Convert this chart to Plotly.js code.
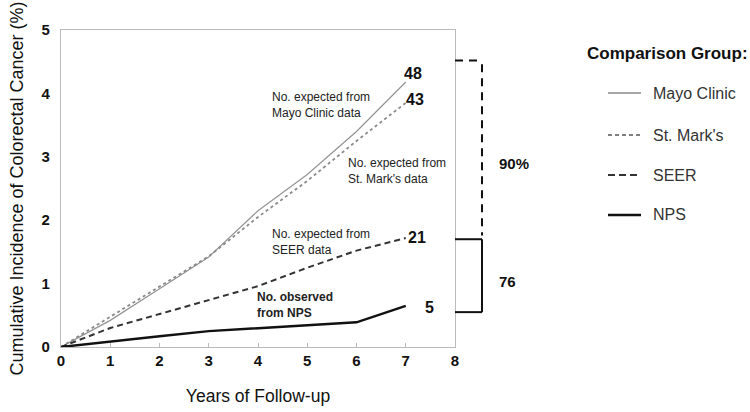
<!DOCTYPE html>
<html>
<head>
<meta charset="utf-8">
<script src="https://cdn.plot.ly/plotly-3.0.1.min.js"></script>
<style>html,body{margin:0;padding:0;background:#fff;}</style>
</head>
<body>
<div id="chart" style="width:750px;height:412px;"></div>
<script>
const years = [0, 1, 2, 3, 4, 5, 6, 7];
const mayo = [0, 0.42, 0.92, 1.42, 2.15, 2.72, 3.4, 4.18];
const stMarks = [0, 0.48, 0.95, 1.43, 2.05, 2.62, 3.25, 3.85];
const seer = [0, 0.3, 0.52, 0.74, 0.96, 1.25, 1.52, 1.72];
const nps = [0, 0.09, 0.17, 0.25, 0.3, 0.34, 0.39, 0.65];
const endCounts = ['48', '43', '21', '5'];
const xTicks = [0, 1, 2, 3, 4, 5, 6, 7, 8];
const yTicks = [0, 1, 2, 3, 4, 5];
const legendNames = ['Mayo Clinic', "St. Mark's", 'SEER', 'NPS'];
const bracketLevels = [4.52, 1.70, 0.55];
const bracketLabels = ['90%', '76'];

const F = 'Liberation Sans, Arial, sans-serif';

const traces = [
  {x: years, y: mayo, mode: 'lines', line: {color: '#939393', width: 1.2}},
  {x: years, y: stMarks, mode: 'lines', line: {color: '#8a8a8a', width: 1.8, dash: 'dot'}},
  {x: years, y: seer, mode: 'lines', line: {color: '#333', width: 2, dash: '6px,4px'}},
  {x: years, y: nps, mode: 'lines', line: {color: '#111', width: 2.4}}
];

const L = 61, R = 455, T = 30, B = 347;
const px = v => (v - L) / (R - L);
const py = v => (B - v) / (B - T);

const ann = [];
const endY = [4.32, 3.91, 1.72, 0.62];
const endX = [7.15, 7.19, 7.22, 7.49];
endCounts.forEach((t, i) => ann.push({x: endX[i], y: endY[i], xref: 'x', yref: 'y', yanchor: 'middle', text: '<b>' + t + '</b>', showarrow: false, font: {family: F, size: 16, color: '#111'}}));

const noteFont = {family: F, size: 12, color: '#222'};
ann.push({x: 4.24, y: 3.81, xref: 'x', yref: 'y', yanchor: 'middle', text: 'No. expected from<br>Mayo Clinic data', showarrow: false, xanchor: 'left', align: 'left', font: noteFont});
ann.push({x: 5.78, y: 2.77, xref: 'x', yref: 'y', yanchor: 'middle', text: "No. expected from<br>St. Mark's data", showarrow: false, xanchor: 'left', align: 'left', font: noteFont});
ann.push({x: 4.24, y: 1.66, xref: 'x', yref: 'y', yanchor: 'middle', text: 'No. expected from<br>SEER data', showarrow: false, xanchor: 'left', align: 'left', font: noteFont});
ann.push({x: 3.94, y: 0.66, xref: 'x', yref: 'y', yanchor: 'middle', text: '<b>No. observed<br>from NPS</b>', showarrow: false, xanchor: 'left', align: 'left', font: noteFont});

// bracket labels
ann.push({x: px(497), y: 2.9, xref: 'paper', yref: 'y', yanchor: 'middle', text: '<b>' + bracketLabels[0] + '</b>', showarrow: false, xanchor: 'left', font: {family: F, size: 15, color: '#111'}});
ann.push({x: px(497), y: 1.03, xref: 'paper', yref: 'y', yanchor: 'middle', text: '<b>' + bracketLabels[1] + '</b>', showarrow: false, xanchor: 'left', font: {family: F, size: 15, color: '#111'}});

const shapes = [];
// brackets
const bx = px(482);
shapes.push({type: 'line', xref: 'paper', yref: 'y', x0: 1, x1: bx - 0.01, y0: bracketLevels[0], y1: bracketLevels[0], line: {color: '#111', width: 2, dash: '8px,6px'}});
shapes.push({type: 'line', xref: 'paper', yref: 'y', x0: bx, x1: bx, y0: bracketLevels[0] - 0.06, y1: bracketLevels[1] + 0.06, line: {color: '#111', width: 2, dash: '8px,6px'}});
shapes.push({type: 'line', xref: 'paper', yref: 'y', x0: 1, x1: bx, y0: bracketLevels[1], y1: bracketLevels[1], line: {color: '#111', width: 2}});
shapes.push({type: 'line', xref: 'paper', yref: 'y', x0: bx, x1: bx, y0: bracketLevels[1], y1: bracketLevels[2], line: {color: '#111', width: 2}});
shapes.push({type: 'line', xref: 'paper', yref: 'y', x0: 1, x1: bx, y0: bracketLevels[2], y1: bracketLevels[2], line: {color: '#111', width: 2}});

// legend
ann.push({x: px(585), y: py(53), xref: 'paper', yref: 'paper', yanchor: 'middle', text: '<b>Comparison Group:</b>', showarrow: false, xanchor: 'left', font: {family: F, size: 17, color: '#111'}});
const legRows = [93, 135, 175, 215];
const legStyles = [
  {color: '#8a8a8a', width: 1.5},
  {color: '#555', width: 1.5, dash: '4px,3px'},
  {color: '#333', width: 1.8, dash: '7px,4px'},
  {color: '#111', width: 2.6}
];
legendNames.forEach((n, i) => {
  shapes.push({type: 'line', xref: 'paper', yref: 'paper', x0: px(608), x1: px(641), y0: py(legRows[i]), y1: py(legRows[i]), line: legStyles[i]});
  ann.push({x: px(651), y: py(legRows[i]), xref: 'paper', yref: 'paper', yanchor: 'middle', text: n, showarrow: false, xanchor: 'left', font: {family: F, size: 16, color: '#333'}});
});

const layout = {
  width: 750, height: 412,
  margin: {l: L, r: 750 - R, t: T, b: 412 - B},
  paper_bgcolor: '#fff', plot_bgcolor: '#fff',
  showlegend: false,
  font: {family: F, color: '#111'},
  xaxis: {range: [0, 8], tickvals: xTicks, ticktext: xTicks.map(v => '<b>' + v + '</b>'), showgrid: false, zeroline: false,
    showline: true, mirror: true, linecolor: '#bbb', linewidth: 1.2, ticks: 'inside', ticklen: 4, tickcolor: '#bbb',
    tickfont: {family: F, size: 15, color: '#111'},
    title: {text: 'Years of Follow-up', font: {family: F, size: 17.5, color: '#111'}, standoff: 21}},
  yaxis: {range: [0, 5], tickvals: yTicks, ticktext: yTicks.map(v => '<b>' + v + '</b>'), showgrid: false, zeroline: false,
    showline: true, mirror: true, linecolor: '#bbb', linewidth: 1.2, ticks: '', ticklabelstandoff: 7,
    tickfont: {family: F, size: 15, color: '#111'},
    title: {text: 'Cumulative Incidence of Colorectal Cancer (%)', font: {family: F, size: 18, color: '#111'}, standoff: 13}},
  annotations: ann,
  shapes: shapes
};

Plotly.newPlot('chart', traces, layout, {displayModeBar: false, staticPlot: true});
</script>
</body>
</html>
